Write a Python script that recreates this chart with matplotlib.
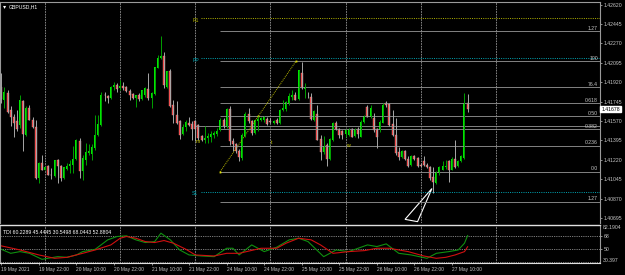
import matplotlib
matplotlib.use('Agg')
import matplotlib.pyplot as plt
import matplotlib.transforms as mtransforms
import numpy as np

plt.rcParams['font.family'] = ['Liberation Sans', 'DejaVu Sans']

# GBPUSD H1 candles, bar 0 = 19 May 10:00
opens = [1.41881, 1.41761, 1.41827, 1.41665, 1.41602, 1.41566, 1.41536, 1.41752, 1.41446, 1.41686,
         1.41581, 1.41515, 1.41056, 1.41191, 1.41131, 1.41161, 1.41086, 1.41071, 1.41215, 1.41161,
         1.41056, 1.41137, 1.41161, 1.41176, 1.41227, 1.41386, 1.41116, 1.41221, 1.41281, 1.41275,
         1.41326, 1.41446, 1.41536, 1.41806, 1.41797, 1.41776, 1.41881, 1.41896, 1.41872, 1.41884,
         1.41881, 1.41842, 1.41812, 1.41776, 1.41806, 1.41770, 1.41806, 1.41860, 1.41782, 1.41812,
         1.42052, 1.42136, 1.42160, 1.41881, 1.42022, 1.41710, 1.41626, 1.41566, 1.41452, 1.41512,
         1.41548, 1.41542, 1.41566, 1.41530, 1.41431, 1.41401, 1.41416, 1.41422, 1.41440, 1.41452,
         1.41491, 1.41581, 1.41521, 1.41680, 1.41386, 1.41362, 1.41296, 1.41236, 1.41437, 1.41635,
         1.41572, 1.41461, 1.41566, 1.41581, 1.41575, 1.41590, 1.41566, 1.41551, 1.41575, 1.41551,
         1.41665, 1.41677, 1.41731, 1.41791, 1.41806, 1.41767, 1.42001, 1.41863, 1.41806, 1.41791,
         1.41581, 1.41635, 1.41407, 1.41287, 1.41356, 1.41227, 1.41401, 1.41551, 1.41497, 1.41476,
         1.41454, 1.41445, 1.41496, 1.41436, 1.41496, 1.41430, 1.41565, 1.41694, 1.41604, 1.41595,
         1.41496, 1.41490, 1.41556, 1.41736, 1.41724, 1.41544, 1.41445, 1.41286, 1.41244, 1.41295,
         1.41226, 1.41175, 1.41250, 1.41235, 1.41175, 1.41205, 1.41175, 1.41154, 1.41064, 1.41010,
         1.41100, 1.41130, 1.41154, 1.41205, 1.41130, 1.41226, 1.41166, 1.41205, 1.41235, 1.41732]
highs = [1.42001, 1.41881, 1.41851, 1.41707, 1.41635, 1.41671, 1.41806, 1.41761, 1.41701, 1.41710,
         1.41605, 1.41581, 1.41197, 1.41266, 1.41161, 1.41176, 1.41146, 1.41221, 1.41227, 1.41176,
         1.41152, 1.41191, 1.41215, 1.41347, 1.41407, 1.41416, 1.41266, 1.41371, 1.41365, 1.41365,
         1.41626, 1.41626, 1.41836, 1.41836, 1.41806, 1.41887, 1.41926, 1.41917, 1.41941, 1.41926,
         1.41890, 1.41860, 1.41821, 1.41806, 1.41821, 1.41851, 1.41881, 1.42001, 1.41836, 1.42061,
         1.42166, 1.42340, 1.42190, 1.42022, 1.42040, 1.41761, 1.41746, 1.41581, 1.41542, 1.41581,
         1.41602, 1.41566, 1.41581, 1.41542, 1.41446, 1.41521, 1.41461, 1.41482, 1.41476, 1.41506,
         1.41596, 1.41596, 1.41686, 1.41701, 1.41420, 1.41371, 1.41317, 1.41461, 1.41647, 1.41686,
         1.41581, 1.41581, 1.41611, 1.41602, 1.41611, 1.41602, 1.41596, 1.41575, 1.41596, 1.41677,
         1.41761, 1.41746, 1.41821, 1.41851, 1.41836, 1.42031, 1.42106, 1.41911, 1.41836, 1.41827,
         1.41671, 1.41716, 1.41446, 1.41437, 1.41371, 1.41416, 1.41557, 1.41566, 1.41506, 1.41491,
         1.41500, 1.41505, 1.41505, 1.41505, 1.41520, 1.41580, 1.41625, 1.41715, 1.41715, 1.41640,
         1.41505, 1.41580, 1.41730, 1.41754, 1.41730, 1.41670, 1.41595, 1.41340, 1.41310, 1.41310,
         1.41250, 1.41265, 1.41265, 1.41244, 1.41190, 1.41250, 1.41190, 1.41166, 1.41154, 1.41115,
         1.41166, 1.41205, 1.41220, 1.41220, 1.41244, 1.41400, 1.41220, 1.41265, 1.41826, 1.41814]
lows = [1.41731, 1.41686, 1.41641, 1.41527, 1.41422, 1.41476, 1.41506, 1.41302, 1.41431, 1.41575,
        1.41506, 1.41047, 1.41011, 1.41131, 1.41125, 1.41080, 1.41047, 1.41065, 1.41011, 1.41026,
        1.41047, 1.41125, 1.41101, 1.41101, 1.41221, 1.41056, 1.41041, 1.41176, 1.41266, 1.41221,
        1.41311, 1.41431, 1.41527, 1.41746, 1.41731, 1.41767, 1.41851, 1.41836, 1.41851, 1.41851,
        1.41836, 1.41761, 1.41770, 1.41692, 1.41752, 1.41761, 1.41791, 1.41761, 1.41686, 1.41806,
        1.42046, 1.42130, 1.41866, 1.41866, 1.41692, 1.41551, 1.41542, 1.41410, 1.41446, 1.41476,
        1.41521, 1.41401, 1.41386, 1.41401, 1.41392, 1.41371, 1.41371, 1.41380, 1.41416, 1.41437,
        1.41476, 1.41506, 1.41506, 1.41356, 1.41300, 1.41281, 1.41206, 1.41221, 1.41425, 1.41551,
        1.41446, 1.41455, 1.41476, 1.41566, 1.41557, 1.41536, 1.41551, 1.41545, 1.41545, 1.41545,
        1.41656, 1.41656, 1.41716, 1.41761, 1.41755, 1.41761, 1.41857, 1.41776, 1.41776, 1.41581,
        1.41566, 1.41395, 1.41221, 1.41275, 1.41161, 1.41221, 1.41386, 1.41491, 1.41416, 1.41407,
        1.41430, 1.41436, 1.41424, 1.41424, 1.41415, 1.41424, 1.41556, 1.41604, 1.41595, 1.41475,
        1.41325, 1.41475, 1.41550, 1.41700, 1.41526, 1.41436, 1.41265, 1.41220, 1.41235, 1.41214,
        1.41154, 1.41166, 1.41220, 1.41154, 1.41154, 1.41166, 1.41145, 1.41040, 1.40920, 1.41004,
        1.41085, 1.41124, 1.41136, 1.41016, 1.41124, 1.41145, 1.41154, 1.41196, 1.41226, 1.41651]
closes = [1.41767, 1.41836, 1.41647, 1.41605, 1.41551, 1.41497, 1.41761, 1.41452, 1.41686, 1.41581,
          1.41515, 1.41056, 1.41191, 1.41131, 1.41152, 1.41086, 1.41083, 1.41215, 1.41161, 1.41056,
          1.41152, 1.41167, 1.41185, 1.41227, 1.41395, 1.41122, 1.41236, 1.41287, 1.41296, 1.41335,
          1.41446, 1.41545, 1.41806, 1.41803, 1.41776, 1.41881, 1.41896, 1.41857, 1.41887, 1.41869,
          1.41842, 1.41806, 1.41776, 1.41806, 1.41770, 1.41851, 1.41866, 1.41776, 1.41821, 1.42061,
          1.42142, 1.42160, 1.41896, 1.42022, 1.41701, 1.41626, 1.41551, 1.41446, 1.41512, 1.41560,
          1.41536, 1.41500, 1.41500, 1.41416, 1.41401, 1.41416, 1.41431, 1.41452, 1.41461, 1.41482,
          1.41581, 1.41521, 1.41680, 1.41386, 1.41362, 1.41296, 1.41245, 1.41446, 1.41632, 1.41566,
          1.41461, 1.41575, 1.41587, 1.41596, 1.41602, 1.41545, 1.41563, 1.41566, 1.41551, 1.41671,
          1.41686, 1.41737, 1.41797, 1.41806, 1.41761, 1.42031, 1.41866, 1.41875, 1.41806, 1.41587,
          1.41656, 1.41401, 1.41287, 1.41341, 1.41227, 1.41407, 1.41551, 1.41497, 1.41446, 1.41446,
          1.41490, 1.41496, 1.41430, 1.41490, 1.41454, 1.41565, 1.41616, 1.41610, 1.41685, 1.41490,
          1.41430, 1.41565, 1.41715, 1.41715, 1.41535, 1.41445, 1.41280, 1.41244, 1.41295, 1.41226,
          1.41166, 1.41256, 1.41226, 1.41160, 1.41166, 1.41175, 1.41154, 1.41055, 1.41016, 1.41106,
          1.41154, 1.41160, 1.41166, 1.41124, 1.41226, 1.41154, 1.41205, 1.41250, 1.41732, 1.41678]

price_ticks = [1.42620, 1.42445, 1.42270, 1.42095, 1.41920, 1.41745, 1.41570,
               1.41395, 1.41220, 1.41045, 1.40870, 1.40695]
time_bars = [0, 12, 24, 36, 48, 60, 72, 84, 96, 108, 120, 132, 144]
time_labels = ['19 May 2021', '19 May 22:00', '20 May 10:00', '20 May 22:00', '21 May 10:00',
               '21 May 22:00', '24 May 10:00', '24 May 22:00', '25 May 10:00', '25 May 22:00',
               '26 May 10:00', '26 May 22:00', '27 May 10:00']
separator_bars = [14, 38, 62, 86, 110, 134, 158]

# fibonacci retracement drawn on the chart
fib_start, fib_end = 69.9, 94.2
fib_low, fib_high = 1.41112, 1.42111
fib_ratios = [1.27, 1.0, 0.764, 0.618, 0.5, 0.382, 0.236, 0.0, -0.27]
fib_names = ['1.27', '100', '76.4', '0.618', '0.50', '0.382', '0.236', '0.0', '1.27']

# pivot levels
pivot_names = ['R1', 'PP', 'S1']
pivot_prices = [1.42499, 1.42134, 1.40934]
pivot_colors = ['#b4b400', '#00a6b4', '#00a6b4']
pivot_start = 61
extra_level = 1.41529

day_letters = ['m', 't', 'w']
day_bars = [62, 86.3, 110.3]
day_prices = [1.41381, 1.41372, 1.41345]

triangle_bars = [129.0, 133.0, 137.6]
triangle_prices = [1.40683, 1.40662, 1.40961]

# TDI sub window
tdi_text = 'TDI 60.2289 45.4445 30.5498 68.0443 52.8804'
green_x = [0, 3, 6, 9, 13, 18, 21, 24, 26, 30, 34, 37, 40, 43, 46, 49, 51, 54, 57, 60, 64, 68, 72,
           74, 76, 80, 84, 88, 92, 95, 98, 103, 107, 111, 117, 120, 123, 127, 131, 136, 139, 143,
           146, 148, 149]
green_v = [49.5, 44.1, 46.4, 44.1, 36.0, 39.6, 38.7, 41.9, 46.4, 49.5, 62.2, 66.7, 67.6, 62.2, 58.6,
           59.9, 71.2, 62.2, 48.6, 41.9, 40.5, 39.6, 50.9, 50.9, 41.9, 55.4, 46.4, 52.3, 62.2, 64.4,
           59.9, 39.6, 48.6, 46.4, 55.4, 53.2, 56.8, 44.1, 41.9, 37.4, 44.1, 46.4, 48.6, 57.7, 68.0]
red_x = [0, 6, 12, 17, 21, 26, 30, 35, 38, 40, 43, 46, 49, 52, 55, 59, 62, 68, 72, 76, 83, 88, 91,
         95, 99, 102, 106, 111, 116, 120, 124, 130, 135, 139, 142, 145, 148, 149]
red_v = [54.1, 48.6, 41.9, 37.4, 38.7, 44.1, 48.6, 55.4, 64.4, 66.7, 64.4, 59.9, 58.6, 61.3, 57.7,
         49.5, 41.9, 40.5, 44.1, 44.1, 50.9, 50.9, 57.7, 64.4, 62.2, 55.4, 44.1, 46.4, 47.7, 50.9,
         50.9, 46.4, 40.5, 37.4, 38.7, 41.9, 46.4, 52.9]
tdi_levels = [68, 50, 32]
tdi_max, tdi_min = 82.1904, 30.397

TXT = '#c8c8c8'
FS = 3.7
XMIN, XMAX = -0.42, 191.3


def draw_candles(ax, o, h, l, c):
    x = np.arange(len(o))
    o, h, l, c = map(np.array, (o, h, l, c))
    up = c > o + 0.00002
    down = c < o - 0.00002
    flat = ~(up | down)
    ax.vlines(x[up], l[up], h[up], color='#00a000', lw=0.7)
    ax.vlines(x[~up], l[~up], h[~up], color='#a8a8a8', lw=0.7)
    ax.bar(x[up], c[up] - o[up], bottom=o[up], width=0.64, color='#00e600', linewidth=0)
    ax.bar(x[down], c[down] - o[down], bottom=o[down], width=0.64, color='#f04040',
           edgecolor='#ff9a9a', linewidth=0.25)
    ax.bar(x[flat], 0.00004, bottom=(o[flat] + c[flat]) / 2 - 0.00002, width=0.64,
           color='#e0e0e0', linewidth=0)


def style_axes(ax):
    ax.set_facecolor('black')
    ax.set_xlim(XMIN, XMAX)
    for s in ax.spines.values():
        s.set_color('#9a9a9a')
        s.set_linewidth(0.8)
    ax.yaxis.tick_right()
    ax.tick_params(axis='y', colors=TXT, labelsize=FS, length=1.5, width=0.5, pad=1)
    for xs in separator_bars:
        ax.axvline(xs, color='#9a9a9a', lw=0.6, dashes=(2, 1.2))


fig = plt.figure(figsize=(6.25, 2.75), dpi=100, facecolor='black')
ax = fig.add_axes([0, 0.18909, 0.96, 0.80545])
ax_ind = fig.add_axes([0, 0.04182, 0.96, 0.14])

# main chart
style_axes(ax)
ax.set_ylim(1.40650, 1.42648)
ax.set_yticks(price_ticks)
ax.set_yticklabels(['%.5f' % p for p in price_ticks])
ax.set_xticks([])
ax.spines['bottom'].set_visible(False)

for name, p, col in zip(pivot_names, pivot_prices, pivot_colors):
    ax.hlines(p, pivot_start + 2.8, XMAX, color=col, lw=0.7, linestyles=(0, (1, 1.3)))
    ax.text(pivot_start, p - 0.00018, name, color=col, fontsize=FS, ha='left', va='center')

ax.hlines(extra_level, 62, XMAX, color='#8c8c8c', lw=0.65)
for r, name in zip(fib_ratios, fib_names):
    y = fib_low + r * (fib_high - fib_low)
    ax.hlines(y, fib_start, XMAX, color='#8c8c8c', lw=0.65)
    ax.text(XMAX - 0.6, y + 0.00004, name, color=TXT, fontsize=FS, ha='right', va='bottom')

ax.plot([fib_start, fib_end], [fib_low, fib_high], color='#b4b400', lw=0.7, ls=(0, (1, 1)))
ax.plot([fib_start, (fib_start + fib_end) / 2, fib_end],
        [fib_low, (fib_low + fib_high) / 2, fib_high], 's', color='#e6e600', ms=1.3, mew=0)

draw_candles(ax, opens, highs, lows, closes)

for t, xb, yp in zip(day_letters, day_bars, day_prices):
    ax.text(xb, yp, t, color='#d2d200', fontsize=FS, ha='left', va='center')

ax.fill(triangle_bars, triangle_prices, fill=False, edgecolor='white', lw=0.8)

trans = mtransforms.blended_transform_factory(ax.transAxes, ax.transData)
ax.text(1.002, closes[-1], '%.5f' % closes[-1], transform=trans, fontsize=FS, color='black',
        ha='left', va='center',
        bbox=dict(boxstyle='square,pad=0.15', fc='white', ec='white'))

ax.text(0.005, 0.975, '\u25be', transform=ax.transAxes, color='white', fontsize=4.5,
        ha='left', va='center', family='DejaVu Sans')
ax.text(0.014, 0.976, 'GBPUSD,H1', transform=ax.transAxes, color='white', fontsize=FS,
        ha='left', va='center')

# TDI window
style_axes(ax_ind)
ax_ind.spines['top'].set_color('#e0e0e0')
ax_ind.spines['top'].set_linewidth(1.0)
ax_ind.spines['bottom'].set_color('#e0e0e0')
ax_ind.set_ylim(tdi_min, tdi_max)
for lv in tdi_levels:
    ax_ind.axhline(lv, color='#8a8a8a', lw=0.6, dashes=(1.5, 1.2))
ax_ind.plot(green_x, green_v, color='#109010', lw=0.8)
ax_ind.plot(red_x, red_v, color='#d01010', lw=0.8)
ax_ind.set_yticks([68, 50])
ax_ind.set_yticklabels(['68', '50'])
ax_ind.text(1.004, 0.99, '82.1904', transform=ax_ind.transAxes, color=TXT, fontsize=FS,
            ha='left', va='top')
ax_ind.text(1.004, 0.01, '30.397', transform=ax_ind.transAxes, color=TXT, fontsize=FS,
            ha='left', va='bottom')
ax_ind.text(0.005, 0.80, tdi_text, transform=ax_ind.transAxes, color='white', fontsize=FS,
            ha='left', va='center')

ax_ind.set_xticks(time_bars)
ax_ind.set_xticklabels(time_labels)
ax_ind.tick_params(axis='x', colors=TXT, labelsize=3.5, length=1.5, width=0.5, pad=1)
for lbl in ax_ind.get_xticklabels():
    lbl.set_ha('left')

fig.savefig('out.png', dpi=100, facecolor='black')
